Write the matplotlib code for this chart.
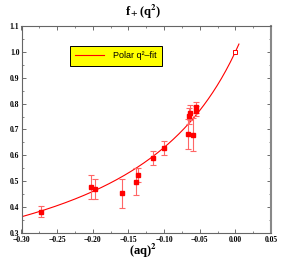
import numpy as np
import matplotlib.pyplot as plt
from matplotlib.ticker import MultipleLocator

# lattice points: (aq)^2, f+ and error
aq2 = [-0.273, -0.2025, -0.1965, -0.159, -0.140, -0.137, -0.115, -0.100,
       -0.0646, -0.064, -0.066, -0.060, -0.055, -0.055]
fplus = [0.383, 0.479, 0.470, 0.453, 0.498, 0.524, 0.590, 0.627,
         0.753, 0.765, 0.681, 0.679, 0.786, 0.772]
ferr = [0.021, 0.046, 0.040, 0.055, 0.052, 0.027, 0.027, 0.027,
        0.030, 0.028, 0.058, 0.064, 0.021, 0.020]

# q^2 = 0 point (open square)
aq2_zero = [0.0]
f_zero = [1.0]

# polar fit parameters: f0 / (1 - q^2/m2)
f0 = 1.0
m2 = 0.1707
x_fit_min, x_fit_max = -0.30, 0.005

plt.rcParams['font.family'] = ['Liberation Serif', 'DejaVu Serif']
plt.rcParams['mathtext.fontset'] = 'stix'
plt.rcParams['mathtext.default'] = 'bf'

fig = plt.figure(figsize=(2.86, 2.67), dpi=100)
ax = fig.add_axes([21.5 / 286, 1 - 233 / 267, 249.5 / 286, 207 / 267])

xf = np.linspace(x_fit_min, x_fit_max, 200)
ax.plot(xf, f0 / (1 - xf / m2), color='red', lw=0.8, label='Polar q\u00b2\u2013fit')

ax.errorbar(aq2, fplus, yerr=ferr, fmt='s', color='red', ms=3.5,
            ecolor='#ff6666', elinewidth=0.8, capsize=2, capthick=0.8)
ax.plot(aq2_zero, f_zero, 's', mfc='white', mec='red', ms=3.5, mew=0.7)

ax.set_xlim(-0.30, 0.05)
ax.set_ylim(0.3, 1.1)
ax.xaxis.set_major_locator(MultipleLocator(0.05))
ax.xaxis.set_minor_locator(MultipleLocator(0.025))
ax.yaxis.set_major_locator(MultipleLocator(0.1))
ax.yaxis.set_minor_locator(MultipleLocator(0.05))
ax.tick_params(which='both', direction='in', top=True, right=True,
               labelsize=5.5, color='#555555')
ax.tick_params(axis='x', pad=2.5)
ax.tick_params(axis='y', pad=1.5)
ax.tick_params(which='major', length=3, width=0.6)
ax.tick_params(which='minor', length=1.5, width=0.5)
ax.xaxis.set_major_formatter(lambda v, p: f'{v:.2f}'.replace('-', '\u2212'))
ax.yaxis.set_major_formatter(lambda v, p: f'{v:.1f}')
for lab in ax.get_xticklabels() + ax.get_yticklabels():
    lab.set_fontweight('bold')
for s in ax.spines.values():
    s.set_color('#666666')
    s.set_linewidth(0.8)
ax.spines['right'].set_linewidth(1.5)
ax.spines['right'].set_color('#888888')

fig.text(0.5, 1 - 12 / 267, 'f$_+$(q$^2$)', ha='center', va='center',
         fontsize=9, fontweight='bold')
fig.text(0.5, 1 - 251 / 267, '(aq)$^2$', ha='center', va='center',
         fontsize=9, fontweight='bold')

leg = ax.legend(loc='upper left', bbox_to_anchor=(0.175, 0.925),
                frameon=True, fancybox=False, handlelength=3.2,
                borderpad=0.6, handletextpad=1.0,
                prop={'family': 'Liberation Sans', 'size': 6.5})
leg.get_frame().set_facecolor('yellow')
leg.get_frame().set_edgecolor('black')
leg.get_frame().set_alpha(1)
leg.get_frame().set_linewidth(0.7)

fig.savefig('out.png', dpi=100)
